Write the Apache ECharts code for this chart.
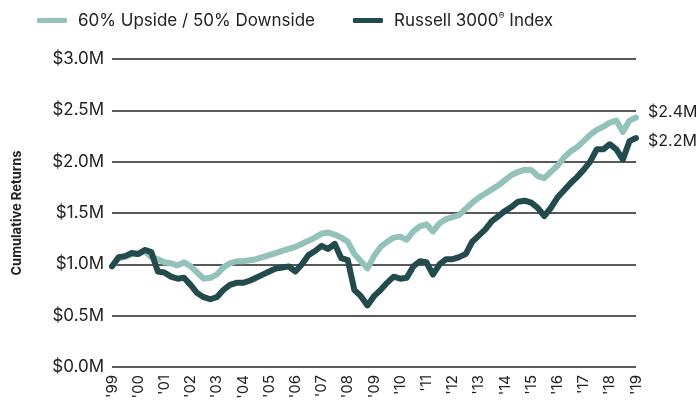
<!DOCTYPE html>
<html>
<head>
<meta charset="utf-8">
<script src="https://cdn.jsdelivr.net/npm/echarts@6/dist/echarts.min.js"></script>
<style>
    html, body { margin: 0; padding: 0; background: #fff; }
    #chart { width: 696px; height: 413px; }
</style>
</head>
<body>
<div id="chart"></div>
<script>
(function () {
    // quarters from 1999 Q1 to 2019 Q1
    var years = ['99', '00', '01', '02', '03', '04', '05', '06', '07', '08', '09',
        '10', '11', '12', '13', '14', '15', '16', '17', '18', '19'];
    var quarters = [];
    for (var y = 0; y < years.length; y++) {
        for (var q = 1; q <= 4; q++) {
            if (y === years.length - 1 && q > 1) break;
            quarters.push(years[y] + 'Q' + q);
        }
    }
    var seriesNames = ['60% Upside / 50% Downside', 'Russell 3000 Index'];
    var upsideValues = [
        0.98, 1.06, 1.07, 1.10, 1.10, 1.13, 1.07, 1.05, 1.02, 1.01,
        0.99, 1.02, 0.98, 0.92, 0.86, 0.87, 0.90, 0.97, 1.01, 1.03,
        1.03, 1.04, 1.05, 1.07, 1.09, 1.11, 1.13, 1.15, 1.17, 1.20,
        1.23, 1.26, 1.30, 1.31, 1.29, 1.26, 1.22, 1.10, 1.03, 0.96,
        1.08, 1.17, 1.22, 1.26, 1.27, 1.24, 1.32, 1.37, 1.39, 1.32,
        1.40, 1.44, 1.46, 1.48, 1.54, 1.60, 1.65, 1.69, 1.73, 1.77,
        1.82, 1.87, 1.90, 1.92, 1.92, 1.86, 1.84, 1.90, 1.96, 2.04,
        2.10, 2.14, 2.20, 2.26, 2.31, 2.34, 2.38, 2.40, 2.29, 2.40,
        2.43
    ];
    var russellValues = [
        0.98, 1.07, 1.08, 1.11, 1.10, 1.14, 1.12, 0.93, 0.92, 0.88,
        0.86, 0.87, 0.80, 0.72, 0.68, 0.66, 0.68, 0.75, 0.80, 0.82,
        0.82, 0.84, 0.87, 0.90, 0.93, 0.96, 0.97, 0.98, 0.93, 1.00,
        1.09, 1.13, 1.18, 1.15, 1.20, 1.06, 1.04, 0.75, 0.69, 0.60,
        0.69, 0.75, 0.82, 0.88, 0.86, 0.87, 0.98, 1.03, 1.02, 0.90,
        1.00, 1.05, 1.05, 1.07, 1.10, 1.22, 1.28, 1.34, 1.42, 1.47,
        1.52, 1.56, 1.61, 1.62, 1.60, 1.55, 1.47, 1.55, 1.65, 1.72,
        1.79, 1.85, 1.92, 2.00, 2.12, 2.12, 2.17, 2.12, 2.02, 2.20,
        2.23
    ];
    var seriesColors = ['#92c2b9', '#234b4d'];
    var fontFamily = 'Inter, sans-serif';

    var chart = echarts.init(document.getElementById('chart'));

    var makeSeries = function (name, data, color, offset) {
        return {
            name: name,
            type: 'line',
            data: data,
            symbol: 'none',
            lineStyle: { width: 6, color: color, cap: 'round', join: 'round' },
            itemStyle: { color: color },
            endLabel: {
                show: true,
                offset: offset,
                color: '#222',
                fontSize: 16,
                fontFamily: fontFamily,
                formatter: function (p) {
                    return '$' + p.value.toFixed(1) + 'M';
                }
            },
            emphasis: { disabled: true }
        };
    };

    chart.setOption({
        animation: false,
        legend: {
            top: 7,
            left: 32,
            icon: 'roundRect',
            itemWidth: 30,
            itemHeight: 5,
            itemGap: 38,
            textStyle: {
                color: '#222',
                fontSize: 17,
                fontFamily: fontFamily,
                padding: [0, 0, 0, 6],
                rich: {
                    a: { fontSize: 17, fontFamily: fontFamily, color: '#222' },
                    s: { fontSize: 9, fontFamily: fontFamily, color: '#222', verticalAlign: 'top', padding: [0, 0, 8, 0] }
                }
            },
            formatter: function (name) {
                if (name === seriesNames[1]) {
                    return '{a|Russell 3000}{s|®}{a| Index}';
                }
                return name;
            },
            data: seriesNames
        },
        grid: {
            left: 112,
            right: 60,
            top: 59,
            bottom: 46
        },
        xAxis: {
            type: 'category',
            boundaryGap: false,
            data: quarters,
            axisLine: { show: false },
            axisTick: { show: false },
            axisLabel: {
                interval: 3,
                rotate: 90,
                margin: 8,
                color: '#222',
                fontSize: 15,
                fontFamily: fontFamily,
                formatter: function (v) {
                    return "'" + v.slice(0, 2);
                }
            }
        },
        yAxis: {
            type: 'value',
            min: 0,
            max: 3,
            interval: 0.5,
            name: 'Cumulative Returns',
            nameLocation: 'middle',
            nameRotate: 90,
            nameGap: 88,
            nameTextStyle: {
                color: '#222',
                fontSize: 13,
                fontWeight: 'bold',
                fontFamily: fontFamily
            },
            axisLine: { show: false },
            axisTick: { show: false },
            axisLabel: {
                margin: 8,
                color: '#222',
                fontSize: 17,
                fontFamily: fontFamily,
                formatter: function (v) {
                    return '$' + v.toFixed(1) + 'M';
                }
            },
            splitLine: { lineStyle: { color: '#222', width: 1.5 } }
        },
        series: [
            makeSeries(seriesNames[0], upsideValues, seriesColors[0], [4, -5]),
            makeSeries(seriesNames[1], russellValues, seriesColors[1], [4, 3])
        ]
    });

    window.addEventListener('resize', function () {
        chart.resize();
    });
})();
</script>
</body>
</html>
